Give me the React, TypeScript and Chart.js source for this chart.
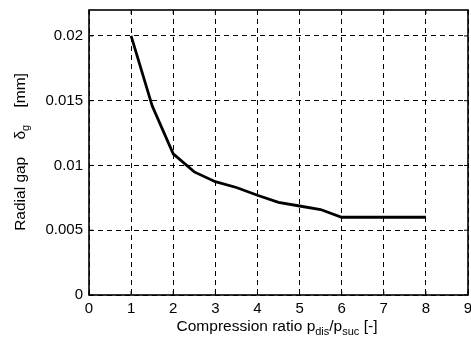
import { useEffect, useRef } from "react";
import { Chart, registerables } from "chart.js";

Chart.register(...registerables);

const compressionRatio = [1, 1.5, 2, 2.5, 3, 3.5, 4, 4.5, 5, 5.5, 6, 6.5, 7, 7.5, 8];
const radialGap = [0.02, 0.0146, 0.0109, 0.0095, 0.00875, 0.0083, 0.0077, 0.00715, 0.00687, 0.0066, 0.006, 0.006, 0.006, 0.006, 0.006];
const xTicks = [0, 1, 2, 3, 4, 5, 6, 7, 8, 9];
const yTicks = [0, 0.005, 0.01, 0.015, 0.02];
const yTickLabels = ["0", "0.005", "0.01", "0.015", "0.02"];
const xTitle = [
  { t: "Compression ratio p", sub: false },
  { t: "dis", sub: true },
  { t: "/p", sub: false },
  { t: "suc", sub: true },
  { t: " [-]", sub: false },
];
const yTitle = [
  { t: "Radial gap    δ", sub: false },
  { t: "g", sub: true },
  { t: "    [mm]", sub: false },
];

const FONT = "'Liberation Sans', Arial, Helvetica, sans-serif";
const MAIN = `15.5px ${FONT}`;
const SUB = `11px ${FONT}`;

function drawRich(ctx: CanvasRenderingContext2D, segs: { t: string; sub: boolean }[], cx: number, baseY: number) {
  let total = 0;
  const widths = segs.map((s) => {
    ctx.font = s.sub ? SUB : MAIN;
    const w = ctx.measureText(s.t).width;
    total += w;
    return w;
  });
  let x = cx - total / 2;
  ctx.textAlign = "left";
  ctx.textBaseline = "alphabetic";
  segs.forEach((s, i) => {
    ctx.font = s.sub ? SUB : MAIN;
    ctx.fillText(s.t, x, s.sub ? baseY + 4 : baseY);
    x += widths[i];
  });
}

const framePlugin = {
  id: "frame",
  afterDraw(chart: any) {
    const { ctx, chartArea, scales } = chart;
    const { left, right, top, bottom } = chartArea;
    ctx.save();
    ctx.setLineDash([]);
    ctx.strokeStyle = "#000";
    ctx.lineWidth = 1;
    ctx.beginPath();
    xTicks.forEach((v) => {
      const px = scales.x.getPixelForValue(v);
      ctx.moveTo(px, bottom);
      ctx.lineTo(px, bottom - 4);
      ctx.moveTo(px, top);
      ctx.lineTo(px, top + 4);
    });
    yTicks.forEach((v) => {
      const py = scales.y.getPixelForValue(v);
      ctx.moveTo(left, py);
      ctx.lineTo(left + 4, py);
      ctx.moveTo(right, py);
      ctx.lineTo(right - 4, py);
    });
    ctx.stroke();
    ctx.lineWidth = 1.6;
    ctx.strokeRect(left, top, right - left, bottom - top);
    ctx.fillStyle = "#000";
    drawRich(ctx, xTitle, 277, 331);
    ctx.translate(24.5, 152);
    ctx.rotate(-Math.PI / 2);
    drawRich(ctx, yTitle, 0, 0);
    ctx.restore();
  },
};

function zeroPad(s: any) {
  s.paddingTop = 0;
  s.paddingBottom = 0;
  s.paddingLeft = 0;
  s.paddingRight = 0;
}

export default function App() {
  const ref = useRef<HTMLCanvasElement | null>(null);
  useEffect(() => {
    if (!ref.current) return;
    const chart = new Chart(ref.current, {
      type: "line",
      data: {
        datasets: [
          {
            data: compressionRatio.map((x, i) => ({ x, y: radialGap[i] })),
            borderColor: "#000",
            borderWidth: 2.8,
            pointRadius: 0,
            tension: 0,
            fill: false,
          },
        ],
      },
      options: {
        responsive: false,
        animation: false,
        events: [],
        layout: { padding: { top: 10, right: 3, left: 0, bottom: 0 } },
        plugins: { legend: { display: false }, tooltip: { enabled: false }, title: { display: false } },
        scales: {
          x: {
            type: "linear",
            min: 0,
            max: 9,
            afterBuildTicks: (s: any) => {
              s.ticks = xTicks.map((v) => ({ value: v }));
            },
            afterFit: (s: any) => {
              s.height = 50;
              zeroPad(s);
            },
            ticks: {
              color: "#000",
              font: { family: FONT, size: 15 },
              padding: 5,
              maxRotation: 0,
              autoSkip: false,
              callback: (v: any) => String(v),
            },
            grid: { color: "#000", lineWidth: 1, drawTicks: false },
            border: { display: false, dash: [5, 4] },
          },
          y: {
            type: "linear",
            min: 0,
            max: 0.022,
            afterBuildTicks: (s: any) => {
              s.ticks = yTicks.map((v) => ({ value: v }));
            },
            afterFit: (s: any) => {
              s.width = 89;
              zeroPad(s);
            },
            ticks: {
              color: "#000",
              font: { family: FONT, size: 15 },
              padding: 6,
              autoSkip: false,
              callback: (v: any) => {
                const i = yTicks.indexOf(v);
                return i >= 0 ? yTickLabels[i] : "";
              },
            },
            grid: { color: "#000", lineWidth: 1, drawTicks: false },
            border: { display: false, dash: [5, 4] },
          },
        },
      },
      plugins: [framePlugin],
    } as any);
    return () => chart.destroy();
  }, []);
  return (
    <div style={{ position: "fixed", left: 0, top: 0, width: 471, height: 345, background: "#fff" }}>
      <canvas ref={ref} width={471} height={345} />
    </div>
  );
}
